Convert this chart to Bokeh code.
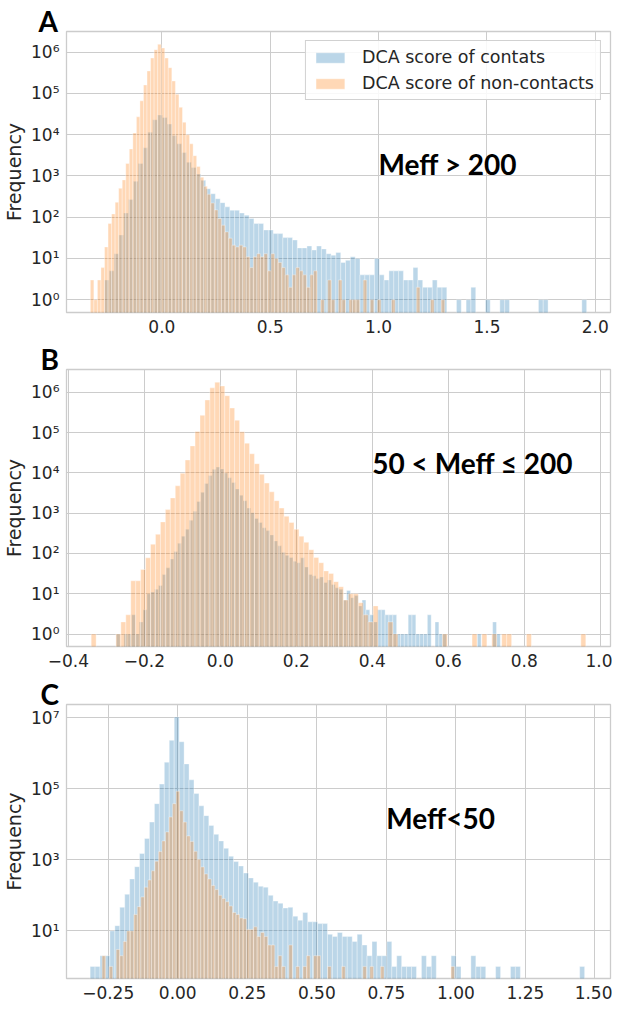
import numpy as np
from bokeh.plotting import figure
from bokeh.layouts import column
from bokeh.models import (ColumnDataSource, FixedTicker, CustomJSTickFormatter,
                          Range1d, Label, Legend, LegendItem)
from bokeh.embed import file_html
from bokeh.resources import INLINE

# ---------------- data ----------------
# Panel A  (Meff > 200): 100 bins each
A_blue_range = (-0.265, 1.96)
A_blue = [3, 5, 13, 37, 126, 270, 740, 2000, 4800, 11500,
          23000, 30000, 26000, 18000, 9500, 6000, 3700, 2150, 1600, 1120,
          780, 490, 370, 280, 225, 178, 148, 148, 126, 112,
          93, 70, 70, 49, 49, 40, 40, 32, 32, 28,
          18, 18, 20, 16, 20, 17, 13, 12, 14, 8,
          9, 11, 10, 4, 4, 4, 10, 4, 3, 5,
          5, 5, 3, 3, 6, 3, 2, 2, 3, 2,
          2, 0, 0, 1, 0, 1, 2, 0, 0, 1,
          0, 0, 1, 1, 0, 0, 0, 0, 0, 0,
          1, 1, 0, 0, 0, 0, 0, 0, 0, 1]
A_orange_range = (-0.33, 1.305)
A_orange = [3, 1, 3, 6, 19, 70, 120, 230, 500, 800,
            2000, 4500, 11000, 27000, 66000, 160000, 350000, 720000, 1150000, 1550000,
            1260000, 720000, 420000, 200000, 95000, 46000, 20000, 10000, 6000, 3100,
            1700, 930, 560, 360, 220, 150, 93, 64, 44, 31,
            21, 19, 21, 19, 11, 6, 11, 13, 11, 13,
            5, 13, 10, 8, 6, 4, 2, 4, 6, 5,
            4, 2, 4, 5, 0, 1, 0, 3, 1, 0,
            3, 1, 0, 1, 1, 1, 0, 3, 0, 1,
            0, 1, 0, 0, 0, 1, 0, 0, 0, 0,
            0, 0, 2, 0, 0, 0, 1, 0, 0, 1]

# Panel B  (50 < Meff <= 200)
B_blue_range = (-0.274, 0.737)
B_blue = [1, 0, 1, 1, 3, 1, 2, 4, 10, 11,
          13, 16, 30, 44, 73, 112, 180, 270, 400, 670,
          1120, 1950, 3300, 5500, 8700, 12300, 14000, 12600, 10000, 7600,
          5800, 4000, 2800, 2050, 1340, 1030, 740, 590, 435, 370,
          290, 205, 155, 107, 90, 80, 64, 59, 78, 46,
          30, 28, 24, 26, 19, 22, 17, 14, 13, 7,
          12, 8, 9, 5, 7, 4, 3, 2, 4, 4,
          3, 3, 3, 1, 1, 1, 3, 3, 1, 1,
          1, 3, 0, 2, 1, 1, 0, 0, 0, 0,
          0, 0, 0, 0, 1, 0, 0, 0, 2, 1]
B_orange_range = (-0.34, 0.962)
B_orange = [1, 0, 0, 0, 0, 1, 2, 3, 21, 21,
            40, 78, 170, 300, 610, 1230, 2400, 4800, 9800, 21000,
            47000, 107000, 270000, 650000, 1300000, 1800000, 1450000, 830000, 410000, 204000,
            105000, 55000, 30000, 17000, 9300, 5600, 3400, 2050, 1340, 840,
            590, 400, 270, 190, 124, 80, 59, 37, 32, 20,
            15, 7, 10, 10, 6, 3, 2, 5, 0, 0,
            2, 1, 0, 0, 0, 0, 0, 0, 0, 0,
            0, 1, 0, 0, 0, 0, 0, 1, 0, 1,
            0, 1, 0, 1, 1, 0, 0, 0, 1, 0,
            0, 0, 0, 0, 0, 0, 0, 0, 0, 1]

# Panel C  (Meff < 50)
C_blue_range = (-0.315, 1.463)
C_blue = [1, 1, 2, 2, 10, 14, 46, 107, 290, 640,
          1500, 4000, 11500, 38000, 135000, 560000, 2300000, 10500000, 2100000, 500000,
          178000, 73000, 33000, 17500, 9300, 5200, 3400, 2100, 1260, 890,
          670, 425, 310, 235, 180, 170, 100, 69, 60, 44,
          46, 26, 20, 33, 18, 18, 16, 16, 8, 7,
          9, 7, 7, 5, 8, 4, 2, 5, 2, 2,
          5, 1, 2, 1, 1, 1, 0, 2, 1, 2,
          0, 0, 0, 2, 1, 0, 0, 2, 1, 1,
          0, 0, 1, 0, 0, 1, 1, 0, 0, 0,
          0, 0, 0, 0, 0, 0, 0, 0, 0, 1]
C_orange_range = (-0.272, 0.995)
C_orange = [2, 0, 1, 0, 3, 2, 5, 10, 10, 29,
            48, 90, 170, 270, 490, 910, 1700, 3400, 6100, 16000,
            38000, 85000, 24000, 11500, 4700, 3300, 1730, 1030, 630, 400,
            290, 190, 145, 100, 81, 66, 50, 33, 29, 23,
            22, 11, 11, 13, 7, 9, 7, 4, 4, 1,
            2, 1, 0, 4, 0, 1, 0, 1, 2, 0,
            2, 2, 0, 0, 1, 0, 0, 0, 1, 0,
            0, 0, 0, 0, 1, 0, 1, 0, 0, 1,
            0, 0, 0, 0, 0, 0, 0, 0, 0, 0,
            0, 0, 0, 0, 0, 0, 0, 0, 0, 1]

A_xticks = [0.0, 0.5, 1.0, 1.5, 2.0]
B_xticks = [-0.4, -0.2, 0.0, 0.2, 0.4, 0.6, 0.8, 1.0]
C_xticks = [-0.25, 0.0, 0.25, 0.5, 0.75, 1.0, 1.25, 1.5]
AB_yticks = [1, 10, 100, 1000, 1e4, 1e5, 1e6]
C_yticks = [10, 1e3, 1e5, 1e7]

legend_labels = ["DCA score of contats", "DCA score of non-contacts"]
titles = ["Meff > 200", "50 < Meff \u2264 200", "Meff<50"]
letters = ["A", "B", "C"]

# ---------------- styling ----------------
BLUE = "#1f77b4"
ORANGE = "#ff7f0e"
GRID = "#cccccc"
TXT = "#262626"
FONT = "DejaVu Sans"
BOLD_FONT = "Lato"
FIG_W = 612

SUP_JS = """
const sup = {"0":"\u2070","1":"\u00b9","2":"\u00b2","3":"\u00b3","4":"\u2074",
             "5":"\u2075","6":"\u2076","7":"\u2077","8":"\u2078","9":"\u2079","-":"\u207b"};
const e = Math.round(Math.log10(tick));
return "10" + String(e).split("").map(c => sup[c]).join("");
"""


def xfmt(dec):
    return CustomJSTickFormatter(code="return tick.toFixed(%d).replace('-', '\u2212');" % dec)


def make_panel(height, bl, br, bt, bb, xr, ylog, xticks, xdec, yticks, letter, letter_off):
    p = figure(width=FIG_W, height=height,
               x_range=Range1d(*xr), y_range=Range1d(10 ** ylog[0], 10 ** ylog[1]),
               y_axis_type="log", output_backend="svg", toolbar_location=None,
               min_border_left=bl, min_border_right=br,
               min_border_top=bt, min_border_bottom=bb)
    p.background_fill_color = "white"
    p.border_fill_color = "white"
    p.outline_line_color = GRID
    p.outline_line_width = 1.3
    p.grid.grid_line_color = GRID
    p.grid.grid_line_width = 1
    p.xaxis.ticker = FixedTicker(ticks=xticks)
    p.yaxis.ticker = FixedTicker(ticks=yticks)
    p.xgrid.ticker = FixedTicker(ticks=xticks)
    p.ygrid.ticker = FixedTicker(ticks=yticks)
    p.xaxis.formatter = xfmt(xdec)
    p.yaxis.formatter = CustomJSTickFormatter(code=SUP_JS)
    for ax in (p.xaxis, p.yaxis):
        ax.axis_line_color = None
        ax.major_tick_line_color = None
        ax.minor_tick_line_color = None
        ax.major_tick_out = 0
        ax.major_tick_in = 0
        ax.minor_tick_out = 0
        ax.minor_tick_in = 0
        ax.major_label_text_font = FONT
        ax.major_label_text_font_size = "17px"
        ax.major_label_text_color = TXT
        ax.major_label_standoff = 7
    p.yaxis.axis_label = "Frequency"
    p.yaxis.axis_label_text_font = FONT
    p.yaxis.axis_label_text_font_size = "19px"
    p.yaxis.axis_label_text_font_style = "normal"
    p.yaxis.axis_label_text_color = TXT
    p.yaxis.axis_label_standoff = 3
    # panel letter as the title
    p.title.text = letter
    p.title.text_font = BOLD_FONT
    p.title.text_font_size = "28px"
    p.title.text_font_style = "bold"
    p.title.text_color = "black"
    p.title.align = "left"
    p.title.offset = letter_off
    p.title.standoff = -12
    return p


def add_hist(p, counts, rng, color, bottom):
    edges = np.linspace(rng[0], rng[1], len(counts) + 1)
    c = np.asarray(counts, dtype=float)
    m = c > 0
    src = ColumnDataSource(dict(left=edges[:-1][m], right=edges[1:][m],
                                top=c[m], bottom=np.full(int(m.sum()), bottom)))
    return p.quad(left="left", right="right", top="top", bottom="bottom", source=src,
                  fill_color=color, fill_alpha=0.3,
                  line_color="white", line_alpha=0.45, line_width=0.8)


def add_title(p, title, tx, ty):
    p.add_layout(Label(x=tx, y=10 ** ty, text=title, text_font=BOLD_FONT,
                       text_font_size="28px", text_font_style="bold", text_color="black",
                       text_baseline="alphabetic", text_align="left"))


# ---------------- Panel A ----------------
pA = make_panel(338, 62, 1, 31, 26, (-0.44, 2.07), (-0.31, 6.5), A_xticks, 1, AB_yticks,
                letters[0], -28)
rb = add_hist(pA, A_blue, A_blue_range, BLUE, 1e-2)
ro = add_hist(pA, A_orange, A_orange_range, ORANGE, 1e-2)
add_title(pA, titles[0], 1.0, 3.3)
leg = Legend(items=[LegendItem(label=legend_labels[0], renderers=[rb]),
                    LegendItem(label=legend_labels[1], renderers=[ro])],
             location="top_right")
leg.label_text_font = FONT
leg.label_text_font_size = "17.5px"
leg.label_text_color = TXT
leg.glyph_width = 36
leg.glyph_height = 13
leg.label_height = 20
leg.label_standoff = 14
leg.spacing = 6
leg.padding = 6
leg.margin = 9
leg.border_line_color = GRID
leg.border_line_alpha = 0.9
leg.background_fill_alpha = 0.85
pA.add_layout(leg)

# ---------------- Panel B ----------------
pB = make_panel(334, 65, 1, 31, 26, (-0.405, 1.027), (-0.31, 6.57), B_xticks, 1, AB_yticks,
                letters[1], -26)
add_hist(pB, B_blue, B_blue_range, BLUE, 1e-2)
add_hist(pB, B_orange, B_orange_range, ORANGE, 1e-2)
add_title(pB, titles[1], 0.4, 4.25)

# ---------------- Panel C ----------------
pC = make_panel(332, 61, 2, 32, 26, (-0.40, 1.556), (-0.34, 7.37), C_xticks, 2, C_yticks,
                letters[2], -26)
add_hist(pC, C_blue, C_blue_range, BLUE, 1e-2)
add_hist(pC, C_orange, C_orange_range, ORANGE, 1e-2)
add_title(pC, titles[2], 0.75, 4.19)

layout = column(pA, pB, pC, spacing=0)
open("out.html", "w").write(file_html(layout, INLINE))
